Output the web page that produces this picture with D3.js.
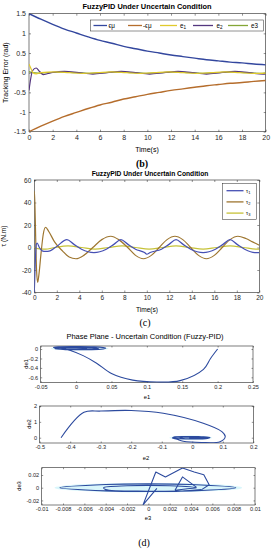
<!DOCTYPE html>
<html>
<head>
<meta charset="utf-8">
<script src="https://cdn.jsdelivr.net/npm/d3@7"></script>
<style>
  body { margin: 0; background: #fff; }
  svg { display: block; font-family: "Liberation Sans", Arial, sans-serif; }
</style>
</head>
<body>
<svg id="fig" width="273" height="550"></svg>
<script>
// ---------- (b) tracking error ----------
const tBound = [0,1,2,3,4,5,6,7,8,9,10,11,12,13,14,15,16,17,18,19,20];
const epsMu  = [1.5,1.36,1.23,1.11,1.01,0.91,0.82,0.75,0.67,0.61,0.55,0.50,0.45,0.41,0.37,0.33,0.30,0.27,0.25,0.22,0.20];
const negEpsMu = [-1.5,-1.36,-1.23,-1.11,-1.01,-0.91,-0.82,-0.75,-0.67,-0.61,-0.55,-0.50,-0.45,-0.41,-0.37,-0.33,-0.30,-0.27,-0.25,-0.22,-0.20];

const tE1 = [0,0.1,0.35,0.6,1.0,2.2,3.4,4.6,5.8,7.0,8.2,9.4,10.6,11.8,13.0,14.2,15.4,16.6,17.8,19.0,20];
const e1  = [0.22,0.15,0.0,-0.03,0.0,0.02,0.0,-0.02,0.0,0.02,0.0,-0.02,0.0,0.02,0.0,-0.02,0.0,0.02,0.0,-0.02,-0.01];
const tE2 = [0,0.3,0.6,0.9,1.2,1.6,2.0,3.0,4.2,5.4,6.6,7.8,9.0,10.2,11.4,12.6,13.8,15.0,16.2,17.4,18.6,19.8,20];
const e2  = [-0.45,0.05,0.12,0.03,-0.05,-0.02,0.01,0.035,0.0,-0.035,0.0,0.035,0.0,-0.035,0.0,0.035,0.0,-0.035,0.0,0.035,0.0,-0.035,-0.03];
const tE3 = [0,0.3,0.8,1.5,2.7,3.9,5.1,6.3,7.5,8.7,9.9,11.1,12.3,13.5,14.7,15.9,17.1,18.3,19.5,20];
const e3  = [0.03,0.0,-0.01,0.0,0.015,0.0,-0.015,0.0,0.015,0.0,-0.015,0.0,0.015,0.0,-0.015,0.0,0.015,0.0,-0.015,-0.01];

const bXTicks = [0,2,4,6,8,10,12,14,16,18,20];
const bYTicks = [-1.5,-1,-0.5,0,0.5,1,1.5];
const bYLabels = ["-1.5","-1","-0.5","0","0.5","1","1.5"];

// ---------- (c) torques ----------
const tTau1 = [0,0.08,0.18,0.25,0.45,0.7,1.0,1.4,2.0,2.9,3.5,4.2,5.3,6.4,7.1,7.7,8.3,9.0,9.8,10.0,10.3,11.3,12.0,12.6,13.2,13.9,15.0,16.1,16.8,17.4,18.0,18.7,19.6,20];
const tau1  = [-40,-15,3,4,0,-3,-3.5,-3,1,7,3,-1.5,-4.5,-1.5,3,7,3,-1.5,-4.5,-6,-4.5,-1.5,3,7,3,-1.5,-4.5,-1.5,3,7,3,-1.5,-4.5,-4.5];
const tTau2 = [0,0.05,0.12,0.2,0.3,0.4,0.6,0.8,1.0,1.3,1.8,2.5,3.1,3.7,4.4,5.2,6.0,6.8,7.5,8.3,9.0,9.7,10.4,11.1,11.8,12.5,13.2,13.9,14.6,15.3,16.0,16.7,17.4,18.1,18.8,19.4,20];
const tau2  = [50,40,10,-20,-31,-25,-5,12,18,14,5,-3,-8.5,-10,-7,0,7,10,7,0,-7,-10,-7,0,7,10,7,0,-7,-10,-7,0,7,10,8,5,2];
const tTau3 = [0,0.3,1.0,1.8,3.0,4.2,5.4,6.6,7.8,9.0,10.2,11.4,12.6,13.8,15.0,16.2,17.4,18.6,19.8,20];
const tau3  = [0,-1,-1.5,0,1.5,0,-1.5,0,1.5,0,-1.5,0,1.5,0,-1.5,0,1.5,0,-1.5,-1.4];

const cXTicks = [0,2,4,6,8,10,12,14,16,18,20];
const cYTicks = [-40,-20,0,20,40,60];

// ---------- (d) phase planes ----------
const e1P  = [0.2,0.19,0.18,0.147,0.114,0.08,0.05,0.029,0.01,-0.008,-0.02,-0.032,-0.025,0,0.025,0.042,0.035,0.01,-0.015,-0.03,-0.022,0,0.022,0.032,0.02,0,-0.018,-0.02,0,0.015,0.008,0];
const de1P = [0.0,-0.2,-0.43,-0.67,-0.70,-0.66,-0.52,-0.30,-0.14,-0.03,0.01,0.03,0.045,0.05,0.045,0.02,-0.005,-0.015,-0.012,0.005,0.025,0.03,0.025,0.005,-0.008,-0.01,0.0,0.015,0.018,0.008,-0.004,0];
const p1XTicks = [-0.05,0,0.05,0.1,0.15,0.2,0.25];
const p1XLabels = ["-0.05","0","0.05","0.1","0.15","0.2","0.25"];
const p1YTicks = [-0.6,-0.4,-0.2,0];
const p1YLabels = ["-0.6","-0.4","-0.2","0"];

const e2P  = [-0.43,-0.355,-0.3,-0.2,-0.095,0.036,0.097,0.108,0.091,0.03,-0.03,-0.05,-0.065,-0.06,-0.02,0.03,0.058,0.05,0.0,-0.05,-0.06,-0.02,0.03,0.05,0.02,-0.03,-0.04,0,0.04,0.03,-0.01];
const de2P = [0,1.6,1.68,1.72,1.54,0.91,0.38,0.06,-0.25,-0.3,-0.22,-0.1,-0.02,0.04,0.07,0.06,0.02,-0.04,-0.08,-0.05,0.0,0.05,0.06,0.02,-0.04,-0.05,0.0,0.05,0.02,-0.02,0];
const p2XTicks = [-0.5,-0.4,-0.3,-0.2,-0.1,0,0.1,0.2];
const p2XLabels = ["-0.5","-0.4","-0.3","-0.2","-0.1","0","0.1","0.2"];
const p2YTicks = [0,1,2];

const e3Jag  = [0.0008,-0.0005,0.0007,0.0016,0.0032,0.0043,0.0052,0.0057,0.005];
const de3Jag = [-0.001,-0.027,0.0247,0.0169,0.031,0.0247,0.0205,0.0047,-0.003];
const e3Jag2  = [0.0025,0.0032,0.0045];
const de3Jag2 = [-0.004,0.017,0.001];
const e3Loop  = [0.005,0.003,0.0,-0.004,-0.0083,-0.004,0.0,0.004,0.0082,0.004,0.0,-0.004,-0.0042,-0.002,0.002,0.0045,0.0035,0.0025];
const de3Loop = [-0.003,-0.0055,-0.006,-0.005,0.0,0.005,0.006,0.005,0.0,-0.005,-0.0055,-0.003,0.0,0.003,0.003,0.0,-0.002,-0.004];
const p3XTicks = [-0.01,-0.008,-0.006,-0.004,-0.002,0,0.002,0.004,0.006,0.008,0.01];
const p3XLabels = ["-0.01","-0.008","-0.006","-0.004","-0.002","0","0.002","0.004","0.006","0.008","0.01"];
const p3YTicks = [-0.02,0,0.02];
const p3YLabels = ["-0.02","0","0.02"];

// light haze behind the dense spirals: [xmin, xmax, ymin, ymax]
const haze1 = [-0.036, 0.046, -0.03, 0.055];
const haze2 = [-0.075, 0.065, -0.14, 0.14];
const haze3 = [-0.0088, 0.0088, -0.0075, 0.0075];

const svg = d3.select("#fig");
const AX = "#262626";
let clipN = 0;

function panel(o) {
  const x = d3.scaleLinear().domain(o.xDom).range([o.x0, o.x1]);
  const y = d3.scaleLinear().domain(o.yDom).range([o.y1, o.y0]);
  const g = svg.append("g");
  const fmtX = d => o.xLabels ? o.xLabels[o.xTicks.indexOf(d)] : d;
  const fmtY = d => o.yLabels ? o.yLabels[o.yTicks.indexOf(d)] : d;

  const id = "clip" + (clipN++);
  svg.append("clipPath").attr("id", id).append("rect")
    .attr("x", o.x0).attr("y", o.y0).attr("width", o.x1 - o.x0).attr("height", o.y1 - o.y0);
  const under = svg.append("g").attr("clip-path", `url(#${id})`);

  g.append("g").attr("transform", `translate(0,${o.y1})`)
    .call(d3.axisBottom(x).tickValues(o.xTicks).tickFormat(fmtX).tickSize(-o.tk).tickPadding(o.pad));
  g.append("g").attr("transform", `translate(0,${o.y0})`)
    .call(d3.axisTop(x).tickValues(o.xTicks).tickFormat("").tickSize(-o.tk));
  g.append("g").attr("transform", `translate(${o.x0},0)`)
    .call(d3.axisLeft(y).tickValues(o.yTicks).tickFormat(fmtY).tickSize(-o.tk).tickPadding(o.pad));
  g.append("g").attr("transform", `translate(${o.x1},0)`)
    .call(d3.axisRight(y).tickValues(o.yTicks).tickFormat("").tickSize(-o.tk));
  g.selectAll(".domain").remove();
  g.selectAll(".tick line").attr("stroke", AX).attr("stroke-width", 0.5);
  g.selectAll(".tick text").attr("fill", AX).style("font-size", o.fs + "px")
    .style("font-family", '"Liberation Sans", Arial, sans-serif');

  g.append("rect").attr("x", o.x0).attr("y", o.y0)
    .attr("width", o.x1 - o.x0).attr("height", o.y1 - o.y0)
    .attr("fill", "none").attr("stroke", AX).attr("stroke-width", 0.6);

  const plot = svg.append("g").attr("clip-path", `url(#${id})`);
  return { x, y, plot, under, g };
}

function series(p, xs, ys, color, w, curve) {
  const pts = xs.map((v, i) => [v, ys[i]]);
  p.plot.append("path")
    .attr("d", d3.line().x(d => p.x(d[0])).y(d => p.y(d[1])).curve(curve)(pts))
    .attr("fill", "none").attr("stroke", color).attr("stroke-width", w)
    .attr("stroke-linejoin", "round");
}

function haze(p, h) {
  p.under.append("ellipse")
    .attr("cx", (p.x(h[0]) + p.x(h[1])) / 2).attr("cy", (p.y(h[2]) + p.y(h[3])) / 2)
    .attr("rx", Math.abs(p.x(h[1]) - p.x(h[0])) / 2).attr("ry", Math.abs(p.y(h[3]) - p.y(h[2])) / 2)
    .attr("fill", "#d9f6fb");
}

function text(x, y, s, size, opts = {}) {
  const t = svg.append("text").attr("x", x).attr("y", y)
    .attr("text-anchor", opts.anchor || "middle")
    .attr("fill", opts.fill || "#000")
    .style("font-size", size + "px")
    .style("font-weight", opts.bold ? "bold" : "normal")
    .style("font-family", opts.serif ? '"Liberation Serif", "Times New Roman", serif' : '"Liberation Sans", Arial, sans-serif');
  if (opts.rotate) t.attr("transform", `rotate(-90,${x},${y})`);
  t.text(s);
  return t;
}

// ===== panel (b) =====
const colB = { eps: "#33479e", neg: "#b56d2c", e1: "#e0ca2c", e2: "#54367f", e3: "#84a636" };
const pb = panel({ x0: 29, x1: 265.7, y0: 13.7, y1: 131.7, xDom: [0, 20], yDom: [-1.5, 1.5],
  xTicks: bXTicks, yTicks: bYTicks, yLabels: bYLabels, tk: 2, pad: 3, fs: 7 });
series(pb, tBound, epsMu, colB.eps, 1.4, d3.curveMonotoneX);
series(pb, tBound, negEpsMu, colB.neg, 1.4, d3.curveMonotoneX);
series(pb, tE3, e3, colB.e3, 1.2, d3.curveMonotoneX);
series(pb, tE2, e2, colB.e2, 1.2, d3.curveMonotoneX);
series(pb, tE1, e1, colB.e1, 1.2, d3.curveMonotoneX);
text(147, 8.8, "FuzzyPID Under Uncertain Condition", 7.4, { bold: true });
text(8.5, 72.7, "Tracking Error (rad)", 7, { rotate: true });
text(147, 152, "Time(s)", 7);
text(142, 166.5, "(b)", 10, { serif: true, bold: true });

// legend (b)
svg.append("rect").attr("x", 90.7).attr("y", 20).attr("width", 172.6).attr("height", 11)
  .attr("fill", "#fff").attr("stroke", AX).attr("stroke-width", 0.5);
const legB = [
  { x1: 93.5, x2: 107, lx: 108.5, c: colB.eps, label: "\u03F5\u03BC" },
  { x1: 128, x2: 142, lx: 143, c: colB.neg, label: "-\u03F5\u03BC" },
  { x1: 160, x2: 177, lx: 180, c: colB.e1, label: "e", sub: "1" },
  { x1: 193, x2: 213, lx: 216.5, c: colB.e2, label: "e", sub: "2" },
  { x1: 228, x2: 248, lx: 251, c: colB.e3, label: "e3" }
];
legB.forEach(d => {
  svg.append("line").attr("x1", d.x1).attr("x2", d.x2).attr("y1", 25.5).attr("y2", 25.5)
    .attr("stroke", d.c).attr("stroke-width", 1.3);
  const t = text(d.lx, 27.8, d.label, 6.3, { anchor: "start" });
  if (d.sub) t.append("tspan").attr("dy", 1.5).style("font-size", "4.6px").text(d.sub);
});

// ===== panel (c) =====
const colC = { t1: "#4650b4", t2: "#9e7630", t3: "#c6c238" };
const pc = panel({ x0: 34.3, x1: 259.3, y0: 180, y1: 292.5, xDom: [0, 20], yDom: [-40, 60],
  xTicks: cXTicks, yTicks: cYTicks, tk: 2, pad: 3, fs: 6.5 });
series(pc, tTau3, tau3, colC.t3, 1.2, d3.curveMonotoneX);
series(pc, tTau2, tau2, colC.t2, 1.2, d3.curveMonotoneX);
series(pc, tTau1, tau1, colC.t1, 1.2, d3.curveMonotoneX);
text(150, 175.5, "FuzzyPID Under Uncertain Condition", 6.7, { bold: true });
text(6, 236, "\u03C4 (N.m)", 6.6, { rotate: true });
text(147, 311.5, "Time(s)", 6.6);
text(145, 325.5, "(c)", 10, { serif: true });

svg.append("rect").attr("x", 222.7).attr("y", 183.3).attr("width", 34).attr("height", 36)
  .attr("fill", "#fff").attr("stroke", AX).attr("stroke-width", 0.5);
const legC = [
  { y: 190.7, c: colC.t1, sub: "1" },
  { y: 201.9, c: colC.t2, sub: "2" },
  { y: 213.1, c: colC.t3, sub: "3" }
];
legC.forEach(d => {
  svg.append("line").attr("x1", 226.5).attr("x2", 243.5).attr("y1", d.y).attr("y2", d.y)
    .attr("stroke", d.c).attr("stroke-width", 1.3);
  const t = text(246, d.y + 1.8, "\u03C4", 5.4, { anchor: "start" });
  t.append("tspan").attr("dy", 1.5).style("font-size", "4px").text(d.sub);
});

// ===== panel (d) =====
const colD = "#2c4a9e";
text(145, 338.5, "Phase Plane - Uncertain Condition (Fuzzy-PID)", 7.5);

const p1 = panel({ x0: 40.7, x1: 253, y0: 346, y1: 382.7, xDom: [-0.05, 0.25], yDom: [-0.714, 0.064],
  xTicks: p1XTicks, xLabels: p1XLabels, yTicks: p1YTicks, yLabels: p1YLabels, tk: 1.5, pad: 2.5, fs: 5.6 });
haze(p1, haze1);
series(p1, e1P, de1P, colD, 1.1, d3.curveCatmullRom.alpha(0.5));
text(147, 398.5, "e1", 5.8);
text(27.5, 364, "de1", 5.8, { rotate: true });

const p2 = panel({ x0: 39.7, x1: 253.3, y0: 406, y1: 443, xDom: [-0.5, 0.2], yDom: [-0.334, 2],
  xTicks: p2XTicks, xLabels: p2XLabels, yTicks: p2YTicks, tk: 1.5, pad: 2.5, fs: 5.6 });
haze(p2, haze2);
series(p2, e2P, de2P, colD, 1.1, d3.curveCatmullRom.alpha(0.5));
text(146, 459.5, "e2", 5.8);
text(31, 424, "de2", 5.8, { rotate: true });

const p3 = panel({ x0: 41.7, x1: 255, y0: 467.7, y1: 505, xDom: [-0.01, 0.01], yDom: [-0.0272, 0.0315],
  xTicks: p3XTicks, xLabels: p3XLabels, yTicks: p3YTicks, yLabels: p3YLabels, tk: 1.5, pad: 2.5, fs: 5.6 });
haze(p3, haze3);
series(p3, e3Loop, de3Loop, colD, 1.1, d3.curveCatmullRom.alpha(0.5));
series(p3, e3Jag, de3Jag, colD, 1.1, d3.curveLinear);
series(p3, e3Jag2, de3Jag2, colD, 1.1, d3.curveLinear);
text(148, 519.5, "e3", 5.8);
text(20.5, 486, "de3", 5.8, { rotate: true });

text(144, 546, "(d)", 10, { serif: true });
</script>
</body>
</html>
